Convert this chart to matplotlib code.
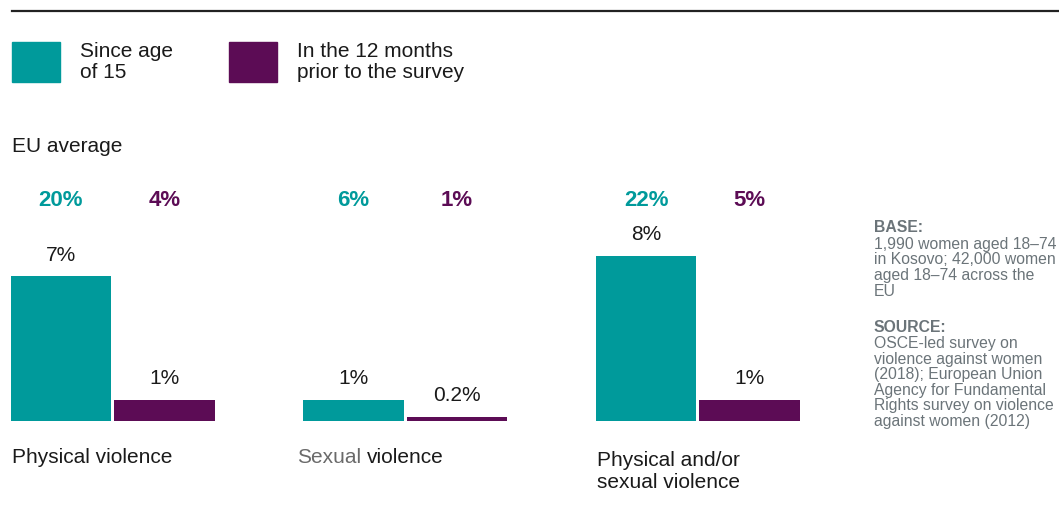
import matplotlib
matplotlib.use("Agg")
import matplotlib.pyplot as plt
import matplotlib.transforms as mtransforms
from matplotlib.patches import Rectangle
from matplotlib.lines import Line2D

plt.rcParams['font.family'] = ['Liberation Sans', 'DejaVu Sans']

# Kosovo results and EU averages, in %
categories = ["Physical violence", "Sexual violence", "Physical and/or\nsexual violence"]
since_15 = [7, 1, 8]
last_12_months = [1, 0.2, 1]
eu_since_15 = [20, 6, 22]
eu_last_12_months = [4, 1, 5]
legend_labels = ["Since age\nof 15", "In the 12 months\nprior to the survey"]

TEAL = "#009a9b"
PURPLE = "#5c0c55"
INK = "#1a1a1a"
NOTE = "#6b7479"

W, H = 1059, 507
fig = plt.figure(figsize=(W / 100, H / 100), dpi=100)


def fx(x):
    return x / W


def fy(y):
    return 1 - y / H


# top rule
fig.add_artist(Line2D([fx(12), 1], [fy(11), fy(11)], color="#222222", lw=1.6))

# legend swatches + labels (baseline of the last line given)
for x0, col, lab, tx in [(12, TEAL, legend_labels[0], 80),
                         (229, PURPLE, legend_labels[1], 297)]:
    fig.add_artist(Rectangle((fx(x0), fy(81.5)), fx(48), 40 / H, color=col,
                             transform=fig.transFigure))
    fig.text(fx(tx), fy(77.7), lab, color=INK, fontsize=15, va='baseline',
             linespacing=1.1)

fig.text(fx(12), fy(151.5), "EU average", color=INK, fontsize=15, va='baseline')

# bar axes: baseline at y=420.7 px, 20.6 px per percentage point
unit = 292.65
half = 0.1768
bw = 100.5 / unit
xmin, xmax = -half - bw / 2, 2 + half + bw / 2
ax = fig.add_axes([fx(10.55), fy(420.7), (xmax - xmin) * unit / W, 206 / H])
ax.set_xlim(xmin, xmax)
ax.set_ylim(0, 10)
ax.axis('off')

xs = list(range(len(categories)))
b1 = ax.bar([x - half for x in xs], since_15, width=bw, color=TEAL)
b2 = ax.bar([x + half for x in xs], last_12_months, width=bw, color=PURPLE)

for bars, vals in [(b1, since_15), (b2, last_12_months)]:
    for b, v in zip(bars, vals):
        ax.annotate(f"{v:g}%", (b.get_x() + b.get_width() / 2, v),
                    xytext=(0, 11.5), textcoords='offset points',
                    ha='center', va='baseline', fontsize=15, color=INK)

# EU averages above each bar
blend = mtransforms.blended_transform_factory(ax.transData, fig.transFigure)
for i in xs:
    ax.text(i - half, fy(206), f"{eu_since_15[i]}%", transform=blend,
            ha='center', va='baseline', fontsize=16, fontweight='bold',
            color=TEAL)
    ax.text(i + half, fy(206), f"{eu_last_12_months[i]}%", transform=blend,
            ha='center', va='baseline', fontsize=16, fontweight='bold',
            color=PURPLE)

# category labels under the bars
lab_x = [12, 297, 597]
fig.text(fx(lab_x[0]), fy(463), categories[0], fontsize=15, color=INK,
         va='baseline')
first, rest = categories[1].split(" ", 1)
t = fig.text(fx(lab_x[1]), fy(463), first, fontsize=15, color="#6a6a6a",
             va='baseline')
fig.canvas.draw()
ext = t.get_window_extent()
fig.text(ext.x1 / W + fx(5.8), fy(463), rest, fontsize=15, color=INK,
         va='baseline')
fig.text(fx(lab_x[2]), fy(488.3), categories[2], fontsize=15, color=INK,
         va='baseline', linespacing=1.24, ha='left')

# base/source notes
base_lines = ["1,990 women aged 18\u201374", "in Kosovo; 42,000 women",
              "aged 18\u201374 across the", "EU"]
source_lines = ["OSCE-led survey on", "violence against women",
                "(2018); European Union", "Agency for Fundamental",
                "Rights survey on violence", "against women (2012)"]
fs_note = 11.3
fig.text(fx(874), fy(231.5), "BASE:", fontsize=fs_note, fontweight='bold',
         color=NOTE, va='baseline')
for k, line in enumerate(base_lines):
    fig.text(fx(874), fy(249 + 15.5 * k), line, fontsize=fs_note, color=NOTE,
             va='baseline')
fig.text(fx(874), fy(331.5), "SOURCE:", fontsize=fs_note, fontweight='bold',
         color=NOTE, va='baseline')
for k, line in enumerate(source_lines):
    fig.text(fx(874), fy(348.3 + 15.5 * k), line, fontsize=fs_note, color=NOTE,
             va='baseline')

fig.savefig("out.png", dpi=100)
